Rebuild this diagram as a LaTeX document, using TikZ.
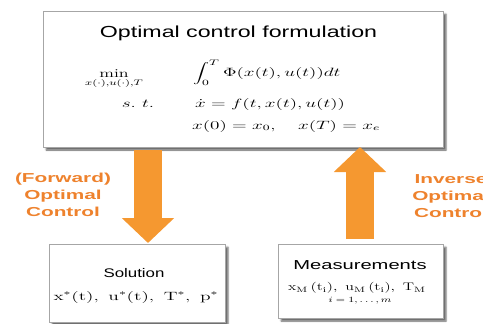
\documentclass[tikz,border=0pt]{standalone}
\usepackage{fontspec}
\setsansfont{Liberation Sans}
\usepackage{graphicx}
\usetikzlibrary{arrows.meta,shadows.blur}
\definecolor{arr}{RGB}{245,152,48}
\definecolor{lab}{RGB}{238,130,45}
\newcommand{\hstretch}[2]{\scalebox{#1}[1]{#2}}
\begin{document}
\begin{tikzpicture}[x=1pt,y=-1pt,
 box/.style={draw=black!35, line width=0.9pt, fill=white, blur shadow={shadow xshift=3pt, shadow yshift=-3pt, shadow blur steps=4, shadow opacity=60}, inner sep=0pt},
 bigarrow/.style={arr, line width=28pt, -{Triangle[width=51pt,length=25pt]}},
 lbl/.style={text=lab, font=\sffamily\bfseries\fontsize{13}{17}\selectfont, align=center, inner sep=0pt},
 ttl/.style={font=\sffamily\fontsize{12.5}{14}\selectfont, inner sep=0pt},
 mth/.style={font=\fontsize{12}{14}\selectfont, inner sep=0pt}]
\useasboundingbox (0,0) rectangle (483,324);
\clip (0,0) rectangle (483,324);
\node[box, minimum width=400pt, minimum height=136pt] (top) at (243,79) {};
\node[box, minimum width=176pt, minimum height=78pt] (sol) at (137,283) {};
\node[box, minimum width=165pt, minimum height=74pt] (meas) at (360.5,281) {};
% top box content
\node[font=\sffamily\fontsize{16}{18}\selectfont, inner sep=0pt] (title) at (238.5,33) {\hstretch{1.45}{Optimal control formulation}};
\node[mth] (min) at (114,79) {\hstretch{1.5}{$\displaystyle\min_{x(\cdot),u(\cdot),T}$}};
\node[mth] (st) at (138,104) {\hstretch{1.6}{$s.\ t.$}};
\node[mth, anchor=west] (int) at (193,73) {\hstretch{1.6}{$\displaystyle\int_0^T \Phi(x(t),u(t))dt$}};
\node[mth, anchor=west] (dyn) at (195,104) {\hstretch{1.6}{$\dot{x}=f(t,x(t),u(t))$}};
\node[mth, anchor=west] (bc) at (192,126) {\hstretch{1.6}{$x(0)=x_0,\quad x(T)=x_e$}};
% bottom boxes content
\node[ttl] (soltitle) at (134,273) {\hstretch{1.35}{Solution}};
\node[mth] (solmath) at (136,297) {\hstretch{1.62}{$\mathrm{x^*(t),\ u^*(t),\ T^*,\ p^*}$}};
\node[ttl, font=\sffamily\fontsize{13}{15}\selectfont] (meastitle) at (360,265) {\hstretch{1.55}{Measurements}};
\node[mth, font=\fontsize{11}{13}\selectfont] (measmath) at (357,288) {\hstretch{1.45}{$\mathrm{x_M\,(t_i),\ u_M\,(t_i),\ T_M}$}};
\node[mth, font=\fontsize{8}{10}\selectfont] (measidx) at (360,301) {\hstretch{1.4}{$i=1,\ldots,m$}};
% arrows
\coordinate (fa) at (148,150);
\coordinate (fb) at (148,243);
\draw[bigarrow] (fa) -- (fb);
\coordinate (ia) at (360,239);
\coordinate (ib) at (360,147);
\draw[bigarrow] (ia) -- (ib);
% labels
\node[lbl] (fwd) at (63,195) {\hstretch{1.6}{(Forward)}\\\hstretch{1.6}{Optimal}\\\hstretch{1.6}{Control}};
\node[lbl] (inv) at (451,196) {\hstretch{1.6}{Inverse}\\\hstretch{1.6}{Optimal}\\\hstretch{1.6}{Control}};
\end{tikzpicture}
\end{document}
